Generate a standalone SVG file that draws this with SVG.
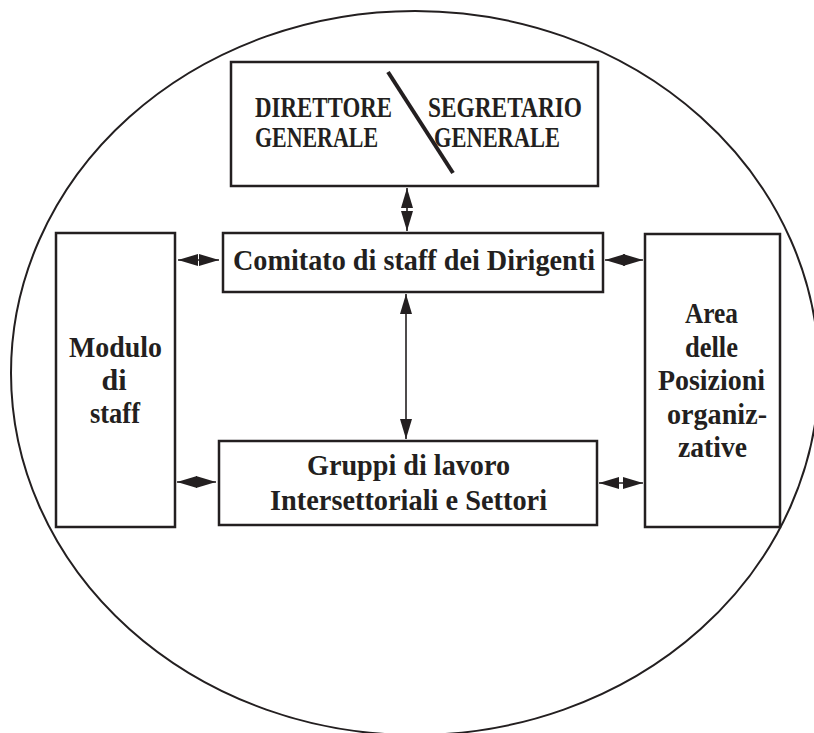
<svg xmlns="http://www.w3.org/2000/svg" width="814" height="733" viewBox="0 0 814 733">
  <style>
    .box { fill: #ffffff; stroke: #231f20; stroke-width: 2.5; }
    .lbl { font-family: "Liberation Serif", "Times New Roman", serif; font-weight: bold; font-size: 30px; fill: #231f20; }
    .mid { text-anchor: middle; }
    .conn { stroke: #231f20; stroke-width: 1.6; fill: none; marker-start: url(#head); marker-end: url(#head); }
  </style>
  <defs>
    <marker id="head" viewBox="0 0 20 12" refX="20" refY="6" markerWidth="20" markerHeight="12" markerUnits="userSpaceOnUse" orient="auto-start-reverse">
      <path d="M0,0 L20,6 L0,12 Z" fill="#231f20"/>
    </marker>
  </defs>

  <!-- enclosing organisation boundary -->
  <ellipse cx="415" cy="373" rx="404" ry="362" fill="none" stroke="#231f20" stroke-width="2"/>

  <g id="direzione">
    <rect class="box" x="231" y="62" width="367" height="124"/>
    <line x1="388" y1="72" x2="453" y2="173" stroke="#231f20" stroke-width="4"/>
    <text class="lbl" x="255" y="117" textLength="137" lengthAdjust="spacingAndGlyphs">DIRETTORE</text>
    <text class="lbl" x="255" y="147" textLength="123" lengthAdjust="spacingAndGlyphs">GENERALE</text>
    <text class="lbl" x="428" y="117" textLength="154" lengthAdjust="spacingAndGlyphs">SEGRETARIO</text>
    <text class="lbl" x="434" y="147" textLength="126" lengthAdjust="spacingAndGlyphs">GENERALE</text>
  </g>

  <g id="comitato">
    <rect class="box" x="223" y="233" width="380" height="59"/>
    <text class="lbl" x="233" y="270" textLength="362" lengthAdjust="spacingAndGlyphs">Comitato di staff dei Dirigenti</text>
  </g>

  <g id="gruppi">
    <rect class="box" x="219" y="441" width="378" height="84"/>
    <text class="lbl" x="307" y="475" textLength="203" lengthAdjust="spacingAndGlyphs">Gruppi di lavoro</text>
    <text class="lbl" x="270" y="510" textLength="277" lengthAdjust="spacingAndGlyphs">Intersettoriali e Settori</text>
  </g>

  <g id="modulo-staff">
    <rect class="box" x="56" y="233" width="119" height="294"/>
    <text class="lbl" x="69" y="357" textLength="93" lengthAdjust="spacingAndGlyphs">Modulo</text>
    <text class="lbl mid" x="114" y="390">di</text>
    <text class="lbl" x="90" y="423" textLength="50" lengthAdjust="spacingAndGlyphs">staff</text>
  </g>

  <g id="area-posizioni">
    <rect class="box" x="645" y="234" width="135" height="293"/>
    <text class="lbl" x="685" y="323" textLength="53" lengthAdjust="spacingAndGlyphs">Area</text>
    <text class="lbl" x="685" y="357" textLength="53" lengthAdjust="spacingAndGlyphs">delle</text>
    <text class="lbl" x="658" y="390" textLength="107" lengthAdjust="spacingAndGlyphs">Posizioni</text>
    <text class="lbl" x="667" y="424" textLength="100" lengthAdjust="spacingAndGlyphs">organiz-</text>
    <text class="lbl" x="678" y="457" textLength="69" lengthAdjust="spacingAndGlyphs">zative</text>
  </g>

  <g id="connectors">
    <line class="conn" x1="407" y1="188" x2="407" y2="231"/>
    <line class="conn" x1="406" y1="294" x2="406" y2="439"/>
    <line class="conn" x1="178" y1="260" x2="219" y2="260"/>
    <line class="conn" x1="177" y1="482" x2="216" y2="482"/>
    <line class="conn" x1="605" y1="260" x2="643" y2="260"/>
    <line class="conn" x1="599" y1="483" x2="643" y2="483"/>
  </g>
</svg>
